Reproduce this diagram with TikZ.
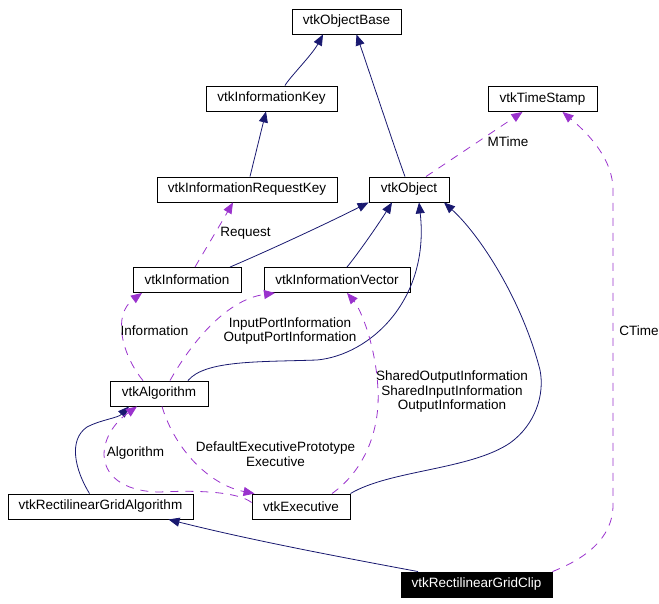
\documentclass[tikz,border=0pt]{standalone}
\usepackage{fontspec}
\setmainfont{Liberation Sans}
\usetikzlibrary{arrows.meta}
\definecolor{edgenavy}{RGB}{25,25,112}
\definecolor{edgepurple}{RGB}{154,50,205}
\tikzset{
	cls/.style={draw, line width=0.9pt, fill=white, minimum height=25pt, inner sep=0pt, font=\fontsize{13.5}{15}\selectfont},
	inh/.style={draw=edgenavy, line width=0.8pt, -{Triangle[length=11pt,width=9pt]}},
	usedby/.style={draw=edgepurple, line width=0.8pt, dash pattern=on 8pt off 7pt, -{Triangle[length=11pt,width=9pt]}},
	lbl/.style={inner sep=0pt, align=center, font=\fontsize{13.5}{14.5}\selectfont}
}
\begin{document}
\begin{tikzpicture}[x=1pt, y=-1pt]
		\useasboundingbox (0,0) rectangle (659,604);
		\node[cls, minimum width=109pt] (base) at (346.5,21.5) {vtkObjectBase};
		\node[cls, minimum width=131pt] (key) at (271.5,98.5) {vtkInformationKey};
		\node[cls, minimum width=180pt] (reqkey) at (247,189.5) {vtkInformationRequestKey};
		\node[cls, minimum width=80pt] (object) at (409,189.5) {vtkObject};
		\node[cls, minimum width=109pt] (stamp) at (542.5,99) {vtkTimeStamp};
		\node[cls, minimum width=108pt] (info) at (187,280) {vtkInformation};
		\node[cls, minimum width=146pt] (infovec) at (337,280) {vtkInformationVector};
		\node[cls, minimum width=98pt] (algo) at (159,393.5) {vtkAlgorithm};
		\node[cls, minimum width=185pt] (rga) at (100.5,506.5) {vtkRectilinearGridAlgorithm};
		\node[cls, minimum width=98pt] (exec) at (301,506.5) {vtkExecutive};
		\node[cls, minimum width=151pt, fill=black, text=white] (clip) at (476.5,584.5) {vtkRectilinearGridClip};
		\draw[inh] ([xshift=13.5pt]key.north) .. controls (289,78) and (312,55) .. ([xshift=-23.5pt]base.south);
		\draw[inh] ([xshift=-4pt]object.north) .. controls (398,158) and (368,68) .. ([xshift=10pt]base.south);
		\draw[inh] ([xshift=3pt]reqkey.north) -- ([xshift=-5.5pt]key.south);
		\draw[inh] ([xshift=43pt]info.north) .. controls (270,250) and (330,222) .. (object.south west);
		\draw[inh] ([xshift=10pt]infovec.north) .. controls (357,255) and (378,225) .. ([xshift=-17pt]object.south);
		\draw[inh] ([xshift=29pt]algo.north) .. controls (205,360) and (260,362) .. (317,360) .. controls (370,355) and (430,300) .. ([xshift=10pt]object.south);
		\draw[inh] (exec.north east) .. controls (390,470) and (470,470) .. (510,443) .. controls (535,425) and (545,395) .. (540,370) .. controls (522,300) and (480,235) .. ([xshift=35pt]object.south);
		\draw[inh] ([xshift=-11pt]rga.north) .. controls (75,470) and (68,440) .. (87,427) .. controls (100,420) and (118,418) .. ([xshift=-30pt]algo.south);
		\draw[inh] ([xshift=-58.5pt]clip.north) .. controls (340,557) and (250,540) .. ([xshift=68pt]rga.south);
		\draw[usedby] ([xshift=17pt]object.north) -- ([xshift=-20pt]stamp.south);
		\draw[usedby] (clip.north east) .. controls (582,560) and (613,540) .. (613,505) -- (613,190) .. controls (613,160) and (590,135) .. ([xshift=20pt]stamp.south);
		\draw[usedby] ([xshift=8pt]info.north) .. controls (205,250) and (220,225) .. ([xshift=-14pt]reqkey.south);
		\draw[usedby] ([xshift=-16pt]algo.north) .. controls (122,355) and (112,315) .. ([xshift=-45pt]info.south);
		\draw[usedby] ([xshift=11pt]algo.north) .. controls (190,345) and (225,300) .. ([xshift=-62pt]infovec.south);
		\draw[usedby] ([xshift=31pt]exec.north) .. controls (365,470) and (380,430) .. (378,390) .. controls (376,345) and (360,308) .. ([xshift=10pt]infovec.south);
		\draw[usedby] ([xshift=3pt]algo.south) .. controls (175,450) and (210,485) .. ([xshift=3pt]exec.north west);
		\draw[usedby] ([yshift=4pt]exec.west) .. controls (238,492) and (200,490) .. (160,492) .. controls (130,492) and (105,480) .. (104,455) .. controls (104,435) and (118,420) .. ([xshift=-22pt]algo.south);
		\node[lbl] (mtime) at (508,142) {MTime};
		\node[lbl] (ctime) at (639,331) {CTime};
		\node[lbl] (request) at (245.5,233) {Request};
		\node[lbl] (information) at (154.5,331) {Information};
		\node[lbl] (portinfo) at (290,331) {InputPortInformation\\OutputPortInformation};
		\node[lbl] (sharedinfo) at (452,392) {SharedOutputInformation\\SharedInputInformation\\OutputInformation};
		\node[lbl] (execinfo) at (275.5,454) {DefaultExecutivePrototype\\Executive};
		\node[lbl] (algoinfo) at (135.5,453) {Algorithm};
\end{tikzpicture}
\end{document}
